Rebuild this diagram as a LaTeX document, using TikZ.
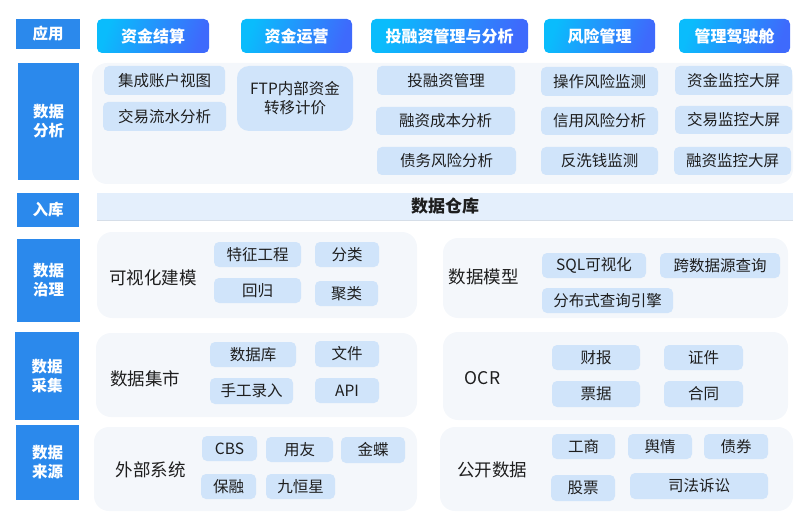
\documentclass[tikz,border=0pt]{standalone}
\usepackage{fontspec}
\newfontfamily\cjk{Noto Sans CJK SC}
\usetikzlibrary{positioning}
\definecolor{labblue}{RGB}{43,137,236}
\definecolor{appcyan}{RGB}{10,188,252}
\definecolor{appblue}{RGB}{62,106,252}
\definecolor{itemblue}{RGB}{208,228,250}
\definecolor{panelbg}{RGB}{244,247,251}
\definecolor{barbg}{RGB}{228,239,252}
\definecolor{barline}{RGB}{214,222,232}
\definecolor{txtdark}{RGB}{30,30,30}

\begin{document}
\begin{tikzpicture}[x=1pt,y=-1pt,
  sz/.style 2 args={minimum width=#1pt,minimum height=#2pt},
  lab/.style={fill=labblue,text=white,inner sep=0pt,align=center,
    font=\cjk\bfseries\fontsize{15.5}{19}\selectfont},
  app/.style={left color=appcyan,right color=appblue,shading angle=70,rounded corners=5pt,
    text=white,inner sep=0pt,font=\cjk\bfseries\fontsize{16}{19}\selectfont},
  panel/.style={fill=panelbg,rounded corners=15pt,inner sep=0pt},
  item/.style={fill=itemblue,rounded corners=5pt,inner sep=0pt,text=txtdark,align=center,
    font=\cjk\fontsize{15.5}{19}\selectfont},
  ptitle/.style={text=txtdark,inner sep=0pt,font=\cjk\fontsize{17.5}{21}\selectfont}]
  \useasboundingbox (0,0) rectangle (810,529);

  % left column
  \node[lab,sz={64}{30}] (yy) at (48,34) {应用};
  \node[lab,sz={61}{117}] (fx) at (48.5,121.5) {数据\\分析};
  \node[lab,sz={62}{34}] (rk) at (48,210) {入库};
  \node[lab,sz={63}{83}] (zl) at (48.5,280.5) {数据\\治理};
  \node[lab,sz={64}{88}] (cj) at (47,376) {数据\\采集};
  \node[lab,sz={63}{75}] (ly) at (47.5,462.5) {数据\\来源};

  % applications
  \node[app,sz={112}{34}] (zjjs) at (153,36) {资金结算};
  \node[app,sz={111}{34}] (zjyy) at (296.5,36) {资金运营};
  \node[app,sz={157}{34}] (trz) at (449.5,36) {投融资管理与分析};
  \node[app,sz={111}{34}] (fxgl) at (599.5,36) {风险管理};
  \node[app,sz={111}{34}] (jsc) at (734.5,36) {管理驾驶舱};

  % analysis
  \node[panel,sz={701}{121}] (fxp) at (442.5,123.5) {};
  \node[item,sz={121}{29}] (zhst) at (164.5,80.5) {集成账户视图};
  \node[item,sz={123}{29}] (lsfx) at (164.5,116.5) {交易流水分析};
  \node[item,sz={116}{65},rounded corners=12pt] (ftp) at (295,98.5) {FTP内部资金\\转移计价};
  \node[item,sz={138}{29}] (trzgl) at (446,80.5) {投融资管理};
  \node[item,sz={139}{28}] (cbfx) at (445.5,121) {融资成本分析};
  \node[item,sz={139}{28}] (zwfx) at (446.5,161) {债务风险分析};
  \node[item,sz={117}{29}] (czjc) at (599.5,81.5) {操作风险监测};
  \node[item,sz={117}{28}] (xyfx) at (599.5,121) {信用风险分析};
  \node[item,sz={117}{28}] (fxq) at (599.5,161) {反洗钱监测};
  \node[item,sz={117}{29}] (zjdp) at (733.5,80.5) {资金监控大屏};
  \node[item,sz={117}{28}] (jydp) at (733.5,120) {交易监控大屏};
  \node[item,sz={117}{28}] (rzdp) at (732.5,161) {融资监控大屏};

  % warehouse
  \node[fill=barbg,sz={696}{27},inner sep=0pt,text=txtdark,
    font=\cjk\bfseries\fontsize{17}{20}\selectfont] (ck) at (445,206.5) {数据仓库};
  \draw[barline,line width=1pt] (ck.south west) -- (ck.south east);

  % governance
  \node[panel,sz={320}{86}] (kshp) at (257,275) {};
  \node[ptitle] (ksh) at (153,278) {可视化建模};
  \node[item,sz={87}{25}] (tzgc) at (257.5,254.5) {特征工程};
  \node[item,sz={87}{25}] (hg) at (257.5,290.5) {回归};
  \node[item,sz={64}{25}] (fl) at (347,254.5) {分类};
  \node[item,sz={63}{25}] (jl) at (346.5,293.5) {聚类};
  \node[panel,sz={345}{80}] (mxp) at (615.5,278) {};
  \node[ptitle] (mx) at (483.5,277) {数据模型};
  \node[item,sz={104}{25}] (sql) at (594,265.5) {SQL可视化};
  \node[item,sz={120}{25}] (kcx) at (720,265.5) {跨数据源查询};
  \node[item,sz={131}{25}] (fbs) at (607.5,300.5) {分布式查询引擎};

  % collection
  \node[panel,sz={321}{84}] (jsp) at (256.5,375) {};
  \node[ptitle] (js) at (145,379) {数据集市};
  \node[item,sz={86}{25}] (sjk) at (253,354.5) {数据库};
  \node[item,sz={83}{26}] (sglr) at (251.5,391) {手工录入};
  \node[item,sz={64}{26}] (wj) at (347,354) {文件};
  \node[item,sz={64}{25}] (api) at (347,390.5) {API};
  \node[panel,sz={345}{88}] (ocrp) at (615.5,376) {};
  \node[ptitle] (ocr) at (482.5,378) {OCR};
  \node[item,sz={88}{25}] (cb) at (596,357.5) {财报};
  \node[item,sz={79}{25}] (zj) at (703.5,357.5) {证件};
  \node[item,sz={88}{26}] (pj) at (596,394) {票据};
  \node[item,sz={79}{26}] (ht) at (703.5,394) {合同};

  % sources
  \node[panel,sz={323}{84}] (wbp) at (255.5,469) {};
  \node[ptitle] (wb) at (150.5,470) {外部系统};
  \node[item,sz={55}{25}] (cbs) at (229.5,448.5) {CBS};
  \node[item,sz={67}{25}] (yyou) at (299.5,449.5) {用友};
  \node[item,sz={64}{26}] (jd) at (373,450) {金蝶};
  \node[item,sz={55}{25}] (br) at (228.5,486.5) {保融};
  \node[item,sz={69}{25}] (jhx) at (300.5,486.5) {九恒星};
  \node[panel,sz={353}{84}] (gkp) at (616.5,469) {};
  \node[ptitle] (gk) at (492,470) {公开数据};
  \node[item,sz={63}{25}] (gs) at (583.5,446.5) {工商};
  \node[item,sz={64}{25}] (yq) at (660,446.5) {舆情};
  \node[item,sz={64}{25}] (zq) at (736,446.5) {债券};
  \node[item,sz={64}{26}] (gp) at (583,488) {股票};
  \node[item,sz={138}{26}] (sf) at (699,486) {司法诉讼};
\end{tikzpicture}
\end{document}
